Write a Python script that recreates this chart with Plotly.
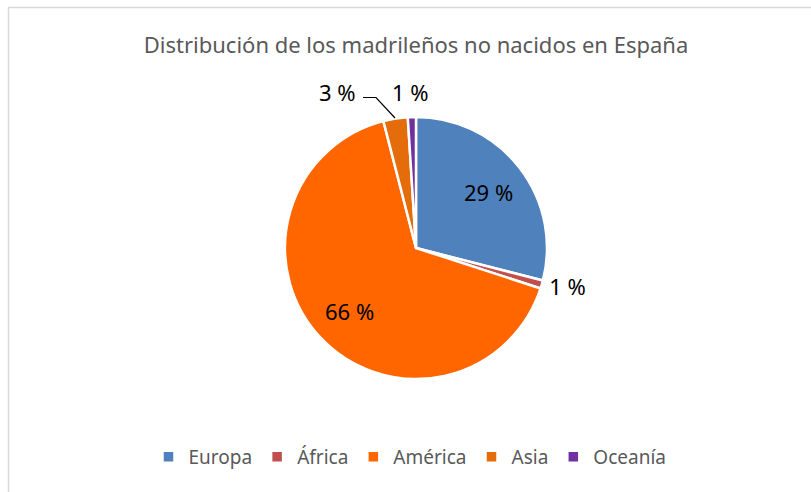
import math
import plotly.graph_objects as go

categories = ["Europa", "África", "América", "Asia", "Oceanía"]
values = [29, 1, 66, 3, 1]
colors = ["#4F81BD", "#C0504D", "#FF6600", "#E46C0A", "#7030A0"]
positions = ["none", "outside", "none", "none", "none"]

W, H = 811, 492
cx, cy, r = 416, 248, 131

labels_text = [f"{v:.0f} %" for v in values]
FONT = "Noto Sans"
LBL = dict(family=FONT, size=22, color="black")

fig = go.Figure(go.Pie(
    labels=categories,
    values=values,
    text=labels_text,
    textinfo="text",
    textposition=positions,
    sort=False,
    direction="clockwise",
    rotation=0,
    marker=dict(colors=colors, line=dict(color="white", width=2.5)),
    textfont=LBL,
    outsidetextfont=LBL,
    domain=dict(x=[(cx - r) / W, (cx + r) / W], y=[1 - (cy + r) / H, 1 - (cy - r) / H]),
    hoverinfo="label+percent",
))

# inside labels for the large slices, on the slice bisector at 0.7 radius
total = sum(values)
cum = 0
for i, v in enumerate(values):
    mid = (cum + v / 2) / total * 2 * math.pi
    cum += v
    if v >= 10:
        px = cx + 0.7 * r * math.sin(mid)
        py = cy - 0.7 * r * math.cos(mid)
        fig.add_annotation(text=labels_text[i], x=px / W, y=1 - py / H, xref="paper", yref="paper",
                           showarrow=False, xanchor="center", yanchor="middle", font=LBL)

# labels for the two small top slices (Asia, Oceanía), placed as Excel does
fig.add_annotation(text=labels_text[3], x=337 / W, y=1 - 92 / H, xref="paper", yref="paper",
                   showarrow=False, xanchor="center", yanchor="middle", font=LBL)
fig.add_annotation(text=labels_text[4], x=410 / W, y=1 - 92 / H, xref="paper", yref="paper",
                   showarrow=False, xanchor="center", yanchor="middle", font=LBL)

fig.update_layout(
    width=W, height=H,
    margin=dict(l=0, r=0, t=0, b=0),
    paper_bgcolor="white",
    title=dict(text="Distribución de los madrileños no nacidos en España",
               x=416 / W, xanchor="center", y=1 - 45 / H, yanchor="middle",
               font=dict(family=FONT, size=22, color="#595959")),
    showlegend=True,
    legend=dict(orientation="h", x=410 / W, xanchor="center", y=1 - 457 / H, yanchor="middle",
                font=dict(family=FONT, size=19, color="#595959"),
                itemwidth=30, traceorder="normal"),
    shapes=[
        dict(type="line", xref="paper", yref="paper",
             x0=8 / W, x1=1.0, y0=1 - 7.5 / H, y1=1 - 7.5 / H,
             line=dict(color="#D9D9D9", width=1.5), layer="below"),
        dict(type="line", xref="paper", yref="paper",
             x0=8.5 / W, x1=8.5 / W, y0=0, y1=1 - 7 / H,
             line=dict(color="#D9D9D9", width=1.5), layer="below"),
        dict(type="path", xref="paper", yref="paper",
             path=f"M {363 / W},{1 - 97.5 / H} L {376 / W},{1 - 97.5 / H} L {395 / W},{1 - 118 / H}",
             line=dict(color="black", width=1.2)),
    ],
)

fig.write_html("out.html", config={"displayModeBar": False},
               post_script="document.body.style.margin='0';document.body.style.overflow='hidden';")
